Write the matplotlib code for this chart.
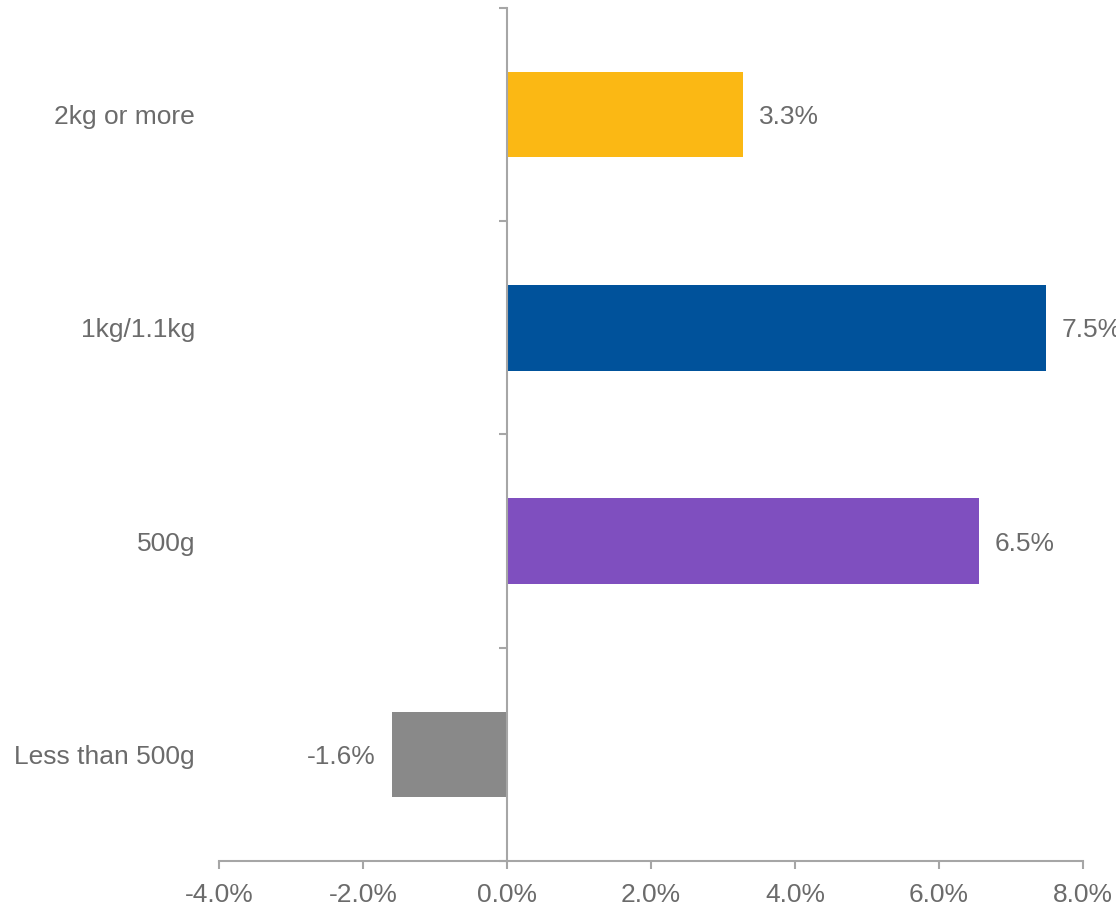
import matplotlib.pyplot as plt
import matplotlib.transforms as mtransforms
from matplotlib.ticker import FuncFormatter

plt.rcParams['font.family'] = ['Liberation Sans', 'DejaVu Sans']

# data, bottom to top
categories = ['Less than 500g', '500g', '1kg/1.1kg', '2kg or more']
values = [-1.6, 6.55, 7.48, 3.28]
value_labels = ['-1.6%', '6.5%', '7.5%', '3.3%']
colors = ['#898989', '#7F4FBF', '#00529B', '#FBB814']

text_color = '#6b6b6b'
axis_color = '#a6a6a6'

fig = plt.figure(figsize=(11.16, 9.06), dpi=100)
ax = fig.add_axes([219 / 1116, 45 / 906, 864 / 1116, 853 / 906])

pos = range(len(categories))
ax.barh(pos, values, height=0.4, color=colors)

ax.set_xlim(-4, 8)
ax.set_ylim(-0.5, len(categories) - 0.5)

# spines
for s in ['top', 'right']:
    ax.spines[s].set_visible(False)
ax.spines['left'].set_position(('data', 0))
ax.spines['left'].set_color(axis_color)
ax.spines['bottom'].set_color(axis_color)
ax.spines['left'].set_linewidth(1.5)
ax.spines['bottom'].set_linewidth(1.5)

# ticks
ax.set_xticks([-4, -2, 0, 2, 4, 6, 8])
ax.xaxis.set_major_formatter(FuncFormatter(lambda v, p: f'{v:.1f}%'))
ax.set_yticks([i - 0.5 for i in range(len(categories) + 1)])
ax.set_yticklabels([])
ax.tick_params(axis='both', colors=axis_color, length=6, width=1.5)
ax.tick_params(axis='x', labelsize=19, labelcolor=text_color, pad=9.5)

# category labels on the far left
trans = mtransforms.blended_transform_factory(ax.transAxes, ax.transData)
for i, cat in enumerate(categories):
    ax.text(-24 / 864, i, cat, transform=trans, ha='right', va='center_baseline',
            fontsize=19, color=text_color)

# value labels
for i, (v, lab) in enumerate(zip(values, value_labels)):
    if v >= 0:
        ax.annotate(lab, (v, i), xytext=(11.5, 0), textcoords='offset points',
                    ha='left', va='center_baseline', fontsize=19, color=text_color,
                    annotation_clip=False)
    else:
        ax.annotate(lab, (v, i), xytext=(-11.5, 0), textcoords='offset points',
                    ha='right', va='center_baseline', fontsize=19, color=text_color,
                    annotation_clip=False)

fig.savefig('out.png', dpi=100)
